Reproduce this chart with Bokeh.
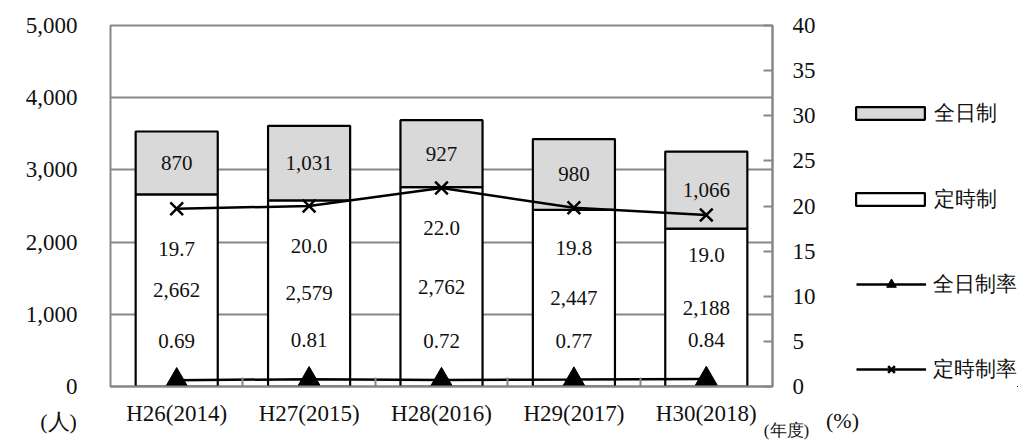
from bokeh.plotting import figure
from bokeh.layouts import row
from bokeh.models import (Range1d, LinearAxis, FixedTicker, Legend, LegendItem,
                          ColumnDataSource)
from bokeh.core.properties import value
from bokeh.embed import file_html
from bokeh.resources import INLINE

# ---- data ----
years = ["H26(2014)", "H27(2015)", "H28(2016)", "H29(2017)", "H30(2018)"]
teiji = [2662, 2579, 2762, 2447, 2188]          # 定時制 (white, bottom)
zennichi = [870, 1031, 927, 980, 1066]           # 全日制 (gray, top)
zennichi_rate = [0.69, 0.81, 0.72, 0.77, 0.84]   # 全日制率 (%)
teiji_rate = [19.7, 20.0, 22.0, 19.8, 19.0]      # 定時制率 (%)
left_ticks = [0, 1000, 2000, 3000, 4000, 5000]
left_tick_labels = ["0", "1,000", "2,000", "3,000", "4,000", "5,000"]
right_ticks = [0, 5, 10, 15, 20, 25, 30, 35, 40]
series_names = ["全日制", "定時制", "全日制率", "定時制率"]
unit_left = "(人)"
unit_year = "(年度)"
unit_right = "(%)"

FONT = "Liberation Serif"
GRAY = "#878787"
INK = "#111111"
BAR_GRAY = "#d9d9d9"

xs = [i + 0.5 for i in range(len(years))]
src = ColumnDataSource(dict(
    x=xs,
    teiji=teiji,
    top=[a + b for a, b in zip(teiji, zennichi)],
    teiji_mid=[a / 2 for a in teiji],
    zen_mid=[a + b / 2 for a, b in zip(teiji, zennichi)],
    teiji_lbl=[f"{v:,}" for v in teiji],
    zen_lbl=[f"{v:,}" for v in zennichi],
    zr=zennichi_rate,
    tr=teiji_rate,
    zr_lbl=[f"{v:.2f}" for v in zennichi_rate],
    tr_lbl=[f"{v:.1f}" for v in teiji_rate],
))

# ================= main chart =================
p = figure(width=822, height=440, x_range=Range1d(0, len(years)),
           y_range=Range1d(left_ticks[0], left_ticks[-1]),
           output_backend="svg", toolbar_location=None,
           min_border_left=110, min_border_right=50,
           min_border_top=25, min_border_bottom=54)
p.extra_y_ranges = {"pct": Range1d(right_ticks[0], right_ticks[-1])}
p.background_fill_color = "white"
p.border_fill_color = "white"
p.outline_line_color = GRAY
p.outline_line_width = 2

# left axis
ya = p.yaxis[0]
ya.ticker = FixedTicker(ticks=left_ticks)
ya.major_label_overrides = {t: l for t, l in zip(left_ticks, left_tick_labels)}
ya.major_tick_in = 0
ya.major_tick_out = 0
ya.minor_tick_in = 0
ya.minor_tick_out = 0
ya.axis_line_color = None
ya.major_label_standoff = 33
ya.major_label_text_font = FONT
ya.major_label_text_font_size = "23px"
ya.major_label_text_color = INK

# bottom axis
xa = p.xaxis[0]
xa.ticker = FixedTicker(ticks=xs, minor_ticks=list(range(1, len(years))))
xa.major_label_overrides = {x: y for x, y in zip(xs, years)}
xa.major_tick_in = 0
xa.major_tick_out = 0
xa.minor_tick_in = 9
xa.minor_tick_out = 0
xa.minor_tick_line_color = GRAY
xa.minor_tick_line_width = 2
xa.axis_line_color = GRAY
xa.axis_line_width = 2
xa.major_label_standoff = 14
xa.major_label_text_font = FONT
xa.major_label_text_font_size = "23px"
xa.major_label_text_color = INK

# right axis
ra = LinearAxis(y_range_name="pct", ticker=FixedTicker(ticks=right_ticks))
ra.major_tick_in = 9
ra.major_tick_out = 0
ra.minor_tick_in = 0
ra.minor_tick_out = 0
ra.major_tick_line_color = GRAY
ra.major_tick_line_width = 2
ra.axis_line_color = GRAY
ra.axis_line_width = 2
ra.major_label_standoff = 20
ra.major_label_text_font = FONT
ra.major_label_text_font_size = "23px"
ra.major_label_text_color = INK
p.add_layout(ra, "right")

p.xgrid.visible = False
p.ygrid.grid_line_color = GRAY
p.ygrid.grid_line_width = 2

bar_style_w = dict(fill_color="white", line_color="black", line_width=2.2)
bar_style_g = dict(fill_color=BAR_GRAY, line_color="black", line_width=2.2)
line_style = dict(line_color="black", line_width=2.5)
x_style = dict(marker="x", size=18, line_color="black", line_width=2.5)
tri_style = dict(marker="triangle", size=22, fill_color="black", line_color="black", line_width=1)

# bars
p.vbar(x="x", bottom=0, top="teiji", width=0.62, source=src, **bar_style_w)
p.vbar(x="x", bottom="teiji", top="top", width=0.62, source=src, **bar_style_g)

# lines
p.line("x", "tr", source=src, y_range_name="pct", **line_style)
p.scatter("x", "tr", source=src, y_range_name="pct", **x_style)
p.line("x", "zr", source=src, y_range_name="pct", **line_style)
p.scatter("x", "zr", source=src, y_range_name="pct", **tri_style)

# data labels
txt = dict(text_align="center", text_baseline="middle", text_font=value(FONT),
           text_font_size="21px", text_color=INK, source=src)
p.text(x="x", y="zen_mid", text="zen_lbl", **txt)
p.text(x="x", y="teiji_mid", text="teiji_lbl", **txt)
p.text(x="x", y="tr", text="tr_lbl", y_range_name="pct", y_offset=40, **txt)
p.text(x="x", y="zr", text="zr_lbl", y_range_name="pct", y_offset=-39, **txt)

# unit labels anchored at the frame's lower corners
unit_src = ColumnDataSource(dict(
    x=[0, len(years)], y=[0, 0], text=[unit_left, unit_year],
    dx=[-52, 14], dy=[35, 44], size=["22px", "17px"],
))
p.text(x="x", y="y", text="text", x_offset="dx", y_offset="dy", text_font_size="size",
       text_align="center", text_baseline="middle", text_font=value(FONT),
       text_color=INK, source=unit_src, level="overlay")

# ================= legend panel (frame aligned with the main chart) =================
q = figure(width=196, height=440, x_range=Range1d(-101, -100), y_range=Range1d(5000, 5001),
           output_backend="svg", toolbar_location=None,
           x_axis_type=None, y_axis_type=None,
           min_border_left=0, min_border_right=0, min_border_top=0, min_border_bottom=0)
q.outline_line_color = None
q.background_fill_color = "white"
q.border_fill_color = "white"
q.xgrid.visible = False
q.ygrid.visible = False

# same series, out of this panel's ranges, only to feed the legend glyphs
g_zen = q.vbar(x="x", bottom="teiji", top="top", width=0.62, source=src, **bar_style_g)
g_tei = q.vbar(x="x", bottom=0, top="teiji", width=0.62, source=src, **bar_style_w)
g_zl = q.line("x", "zr", source=src, **line_style)
g_zm = q.scatter("x", "zr", source=src, **tri_style)
g_tl = q.line("x", "tr", source=src, **line_style)
g_tm = q.scatter("x", "tr", source=src, **x_style)

leg_common = dict(padding=0, margin=0, border_line_color=None, background_fill_alpha=0,
                  label_text_font=FONT, label_text_font_size="21px",
                  label_text_color=INK, label_height=32)
leg1 = Legend(items=[LegendItem(label=series_names[0], renderers=[g_zen]),
                     LegendItem(label=series_names[1], renderers=[g_tei])],
              location=(25, 171), glyph_width=86, glyph_height=16, spacing=54,
              label_standoff=1, **leg_common)
leg2 = Legend(items=[LegendItem(label=series_names[2], renderers=[g_zl, g_zm]),
                     LegendItem(label=series_names[3], renderers=[g_tl, g_tm])],
              location=(34, 1), glyph_width=70, glyph_height=24, spacing=53,
              label_standoff=7, **leg_common)
q.add_layout(leg1)
q.add_layout(leg2)

unit_src2 = ColumnDataSource(dict(x=[q.x_range.start], y=[q.y_range.start], text=[unit_right]))
q.text(x="x", y="y", text="text", x_offset=20, y_offset=34, text_font_size="22px",
       text_align="center", text_baseline="middle", text_font=value(FONT),
       text_color=INK, source=unit_src2, level="overlay")

layout = row(p, q)
open("out.html", "w").write(file_html(layout, INLINE))
